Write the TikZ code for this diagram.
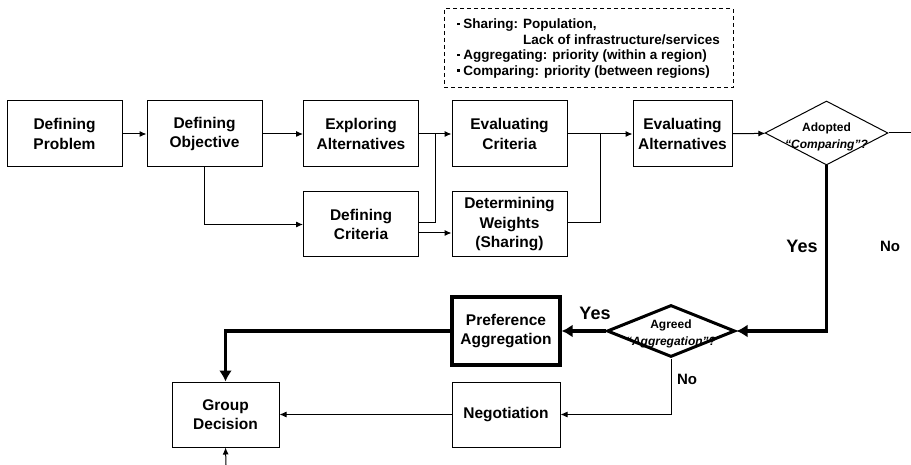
\documentclass[tikz,border=0pt]{standalone}
\usepackage{fontspec}
\setmainfont{Liberation Sans}
\usetikzlibrary{arrows.meta,calc,positioning,shapes.geometric}

\tikzset{
  box/.style={draw,line width=1pt,minimum width=115pt,minimum height=66pt,inner sep=0pt,
    align=center,font=\bfseries\fontsize{15.5}{19.5}\selectfont},
  boldbox/.style={box,line width=3.2pt,minimum width=108pt,minimum height=68pt},
  choice/.style={draw,diamond,line width=1pt,inner sep=0pt},
  choicetext/.style={align=center,inner sep=0pt,font=\bfseries\fontsize{12}{16.5}\selectfont},
  arr/.style={line width=1pt,-{Latex[length=7pt,width=6pt]}},
  thickarr/.style={line width=3.6pt,-{Latex[length=11pt,width=13pt]}},
  answer/.style={font=\bfseries\fontsize{#1}{#1}\selectfont,inner sep=0pt},
}
\newcommand{\sqbul}{\raisebox{3.5pt}{\rule{2.5pt}{2.5pt}}\ }

\begin{document}
\begin{tikzpicture}[x=1pt,y=-1pt]
	\useasboundingbox (0,0) rectangle (911,465);
	% first row
	\node[box] (prob) at (64.5,134) {Defining\\Problem};
	\node[box] (obj) at (204.5,134) {Defining\\Objective};
	\node[box] (expl) at (361,134) {Exploring\\Alternatives};
	\node[box] (evcrit) at (509.5,134) {Evaluating\\Criteria};
	\node[box,minimum width=99pt] (evalt) at (682.5,134) {Evaluating\\Alternatives};
	\node[choice,minimum width=123pt,minimum height=64pt] (adopt) at (826.5,133) {};
	\node[choicetext] (adopttxt) at (826.5,137) {Adopted\\\textit{``Comparing''?}};
	\coordinate (outR) at (911,133);
	% second row
	\node[box,minimum height=65pt] (crit) at (361,224.5) {Defining\\Criteria};
	\node[box,minimum height=65pt] (weights) at (509.5,224.5) {Determining\\Weights\\(Sharing)};
	% notes
	\node[draw,line width=1pt,dash pattern=on 4pt off 3pt,minimum width=289pt,minimum height=79pt,
	  inner sep=0pt,align=left,font=\bfseries\fontsize{13.5}{15.5}\selectfont] (notes) at (588.5,48.5)
	  {\sqbul Sharing: Population,\\
	   \hphantom{\sqbul Sharing: }Lack of infrastructure/services\\
	   \sqbul Aggregating: priority (within a region)\\
	   \sqbul Comparing: priority (between regions)};
	% lower part
	\node[choice,line width=3pt,minimum width=128pt,minimum height=52pt] (agree) at (671,331) {};
	\node[choicetext] (agreetxt) at (671,334) {Agreed\\\textit{``Aggregation''?}};
	\node[boldbox] (pref) at (506,331) {Preference\\Aggregation};
	\node[box,minimum width=108pt,minimum height=65pt] (nego) at (506,414.5) {Negotiation};
	\node[box,minimum width=107pt,minimum height=65pt] (group) at (225.5,414.5) {Group\\Decision};
	\coordinate (inB) at (226,465);
	% answers
	\node[answer=18] (yes1) at (802,246) {Yes};
	\node[answer=15] (no1) at (890,246) {No};
	\node[answer=18] (yes2) at (595,313) {Yes};
	\node[answer=15] (no2) at (687,379) {No};
	% connectors
	\draw[arr] (prob) -- (obj);
	\draw[arr] (obj) -- (expl);
	\draw[arr] (obj.south) |- (crit.west);
	\draw[arr] (expl) -- (evcrit);
	\draw[line width=1pt] ([yshift=1.5pt]crit.east) -| ($(expl.east)!.5!(evcrit.west)$);
	\draw[arr] ([yshift=-8.5pt]crit.east) -- ([yshift=-8.5pt]weights.west);
	\draw[arr] (evcrit) -- (evalt);
	\draw[line width=1pt] ([yshift=1.5pt]weights.east) -| ($(evcrit.east)!.5!(evalt.west)$);
	\draw[arr] (evalt) -- (adopt);
	\draw[line width=1pt] (adopt.east) -- (outR);
	\draw[thickarr] (adopt.south) |- (agree.east);
	\draw[thickarr] (agree.west) -- (pref.east);
	\draw[thickarr] (pref.west) -| (group.north);
	\draw[arr] (agree.south) |- (nego.east);
	\draw[arr] (nego) -- (group);
	\draw[arr] (inB) -- (group.south);
\end{tikzpicture}
\end{document}
